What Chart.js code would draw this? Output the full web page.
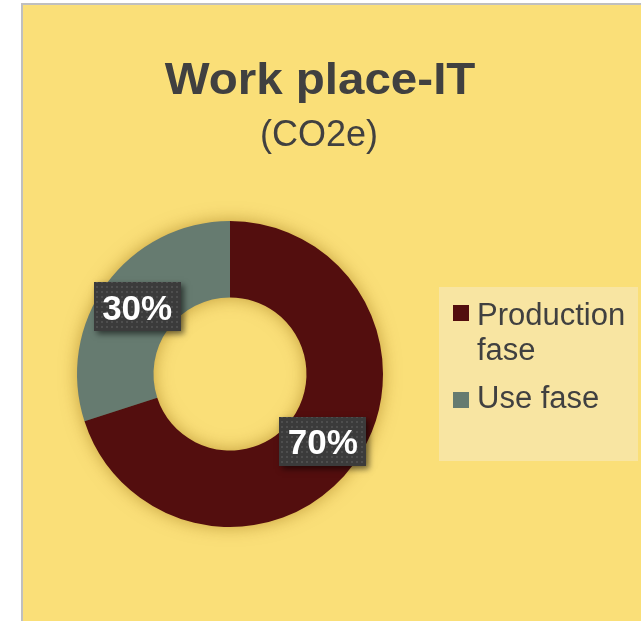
<!DOCTYPE html>
<html>
<head>
<meta charset="utf-8">
<script src="https://cdn.jsdelivr.net/npm/chart.js@4/dist/chart.umd.min.js"></script>
<style>
html,body{margin:0;padding:0;background:#fff;}
#c{position:absolute;left:0;top:0;}
</style>
</head>
<body>
<canvas id="c" width="641" height="621"></canvas>
<script>
const titleText = 'Work place-IT';
const subtitleText = '(CO2e)';
const categories = ['Production fase', 'Use fase'];
const legendLines = [['Production', 'fase'], ['Use fase']];
const values = [70, 30];
const colors = ['#530E0E', '#667B70'];

const FONT = '"Liberation Sans", Arial, sans-serif';

const bgPlugin = {
  id: 'bg',
  beforeDraw(chart) {
    const ctx = chart.ctx;
    ctx.save();
    ctx.fillStyle = '#ffffff';
    ctx.fillRect(0, 0, 641, 621);
    ctx.fillStyle = '#BFBFBF';
    ctx.fillRect(21, 3, 620, 618);
    ctx.fillStyle = '#FADF78';
    ctx.fillRect(23, 5, 618, 616);
    // titles
    ctx.fillStyle = '#404040';
    ctx.textAlign = 'center';
    ctx.textBaseline = 'alphabetic';
    ctx.save();
    ctx.translate(320, 94);
    ctx.scale(1.08, 1);
    ctx.font = 'bold 44px ' + FONT;
    ctx.fillText(titleText, 0, 0);
    ctx.restore();
    ctx.font = '36px ' + FONT;
    ctx.fillText(subtitleText, 319, 146);
    // legend
    ctx.fillStyle = '#F8E5A2';
    ctx.fillRect(439, 287, 199, 174);
    ctx.font = '31px ' + FONT;
    ctx.textAlign = 'left';
    const markerY = [305, 392];
    const lineBase = [[325, 360], [408]];
    categories.forEach((c, i) => {
      ctx.fillStyle = colors[i];
      ctx.fillRect(453, markerY[i], 16, 16);
      ctx.fillStyle = '#404040';
      legendLines[i].forEach((t, j) => ctx.fillText(t, 477, lineBase[i][j]));
    });
    ctx.restore();
  },
  beforeDatasetsDraw(chart) {
    const ctx = chart.ctx;
    const a = chart.getDatasetMeta(0).data[0];
    if (!a) return;
    ctx.save();
    ctx.shadowColor = 'rgba(140,95,0,0.55)';
    ctx.shadowBlur = 18;
    ctx.fillStyle = '#5a3a20';
    ctx.beginPath();
    ctx.arc(a.x, a.y, a.outerRadius - 1, 0, Math.PI * 2, false);
    ctx.arc(a.x, a.y, a.innerRadius + 1, 0, Math.PI * 2, true);
    ctx.closePath();
    ctx.fill('evenodd');
    ctx.restore();
  },
  afterDatasetsDraw(chart) {
    const ctx = chart.ctx;
    // data labels
    const pc = document.createElement('canvas');
    pc.width = 5; pc.height = 5;
    const p = pc.getContext('2d');
    p.fillStyle = '#3B3B3B';
    p.fillRect(0, 0, 5, 5);
    p.fillStyle = '#4E4E4E';
    p.fillRect(1, 1, 2, 2);
    const pattern = ctx.createPattern(pc, 'repeat');
    const meta = chart.getDatasetMeta(0);
    const total = values.reduce((a, b) => a + b, 0);
    meta.data.forEach((arc, i) => {
      const pos = arc.tooltipPosition();
      const w = 87, h = 49;
      const x = Math.round(pos.x - w / 2), y = Math.round(pos.y - h / 2);
      ctx.save();
      ctx.shadowColor = 'rgba(0,0,0,0.55)';
      ctx.shadowBlur = 6;
      ctx.shadowOffsetX = 3;
      ctx.shadowOffsetY = 3;
      ctx.fillStyle = '#3B3B3B';
      ctx.fillRect(x, y, w, h);
      ctx.restore();
      ctx.save();
      ctx.fillStyle = pattern;
      ctx.fillRect(x, y, w, h);
      ctx.fillStyle = '#ffffff';
      ctx.font = 'bold 35px ' + FONT;
      ctx.textAlign = 'center';
      ctx.textBaseline = 'alphabetic';
      const pct = Math.round(values[i] / total * 100) + '%';
      ctx.fillText(pct, pos.x, pos.y + 13);
      ctx.restore();
    });
  }
};

new Chart(document.getElementById('c'), {
  type: 'doughnut',
  data: {
    labels: categories,
    datasets: [{
      data: values,
      backgroundColor: colors,
      borderWidth: 0,
      hoverOffset: 0
    }]
  },
  options: {
    responsive: false,
    animation: false,
    cutout: '50%',
    layout: { padding: { left: 77, top: 221, right: 258, bottom: 94 } },
    plugins: {
      legend: { display: false },
      title: { display: false },
      tooltip: { enabled: false }
    }
  },
  plugins: [bgPlugin]
});
</script>
</body>
</html>
